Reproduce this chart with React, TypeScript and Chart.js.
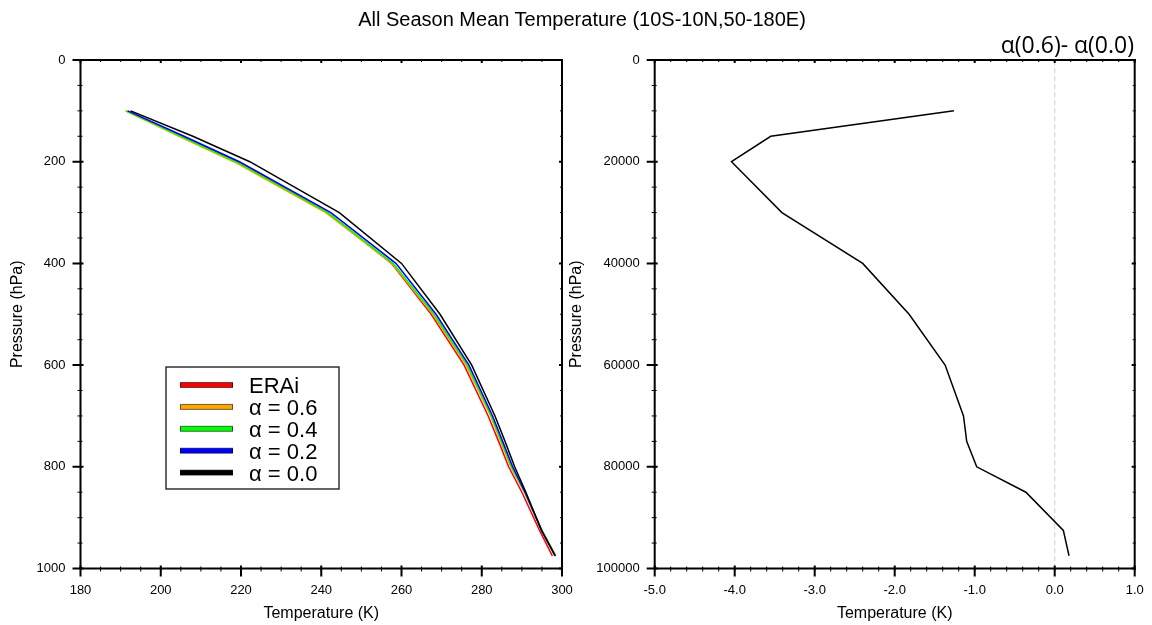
import React, { useEffect, useRef } from "react";
import { Chart, registerables } from "chart.js";

Chart.register(...registerables);

// ---------- data ----------
const pressureLevels = [100, 150, 200, 300, 400, 500, 600, 700, 750, 800, 850, 925, 975];
const tempERAi = [191.4, 205.3, 219.3, 241.6, 257.5, 267.4, 275.6, 281.6, 284.2, 286.7, 290.0, 294.4, 297.6];
const tempAlpha06 = [191.2, 204.5, 218.2, 241.1, 257.6, 267.8, 276.1, 282.2, 284.7, 287.2, 290.6, 295.0, 298.5];
const tempAlpha04 = [191.4, 205.0, 218.7, 241.6, 257.9, 268.1, 276.4, 282.4, 284.9, 287.4, 290.7, 295.0, 298.4];
const tempAlpha02 = [191.8, 205.8, 219.6, 242.4, 258.6, 268.6, 276.8, 282.7, 285.2, 287.7, 290.8, 294.9, 298.3];
const tempAlpha00 = [192.5, 208.0, 222.2, 244.5, 260.0, 269.6, 277.5, 283.3, 285.8, 288.2, 291.0, 294.9, 298.3];
const seriesLabels = ["ERAi", "α = 0.6", "α = 0.4", "α = 0.2", "α = 0.0"];
const seriesColors = ["#ff0000", "#ffa500", "#00ff00", "#0000ff", "#000000"];
const seriesDrawOrder = [4, 3, 2, 1, 0];

const diffPressurePa = [10000, 15000, 20000, 30000, 40000, 50000, 60000, 70000, 75000, 80000, 85000, 92500, 97500];
const diffAlpha06Minus00 = [-1.26, -3.55, -4.04, -3.41, -2.4, -1.82, -1.37, -1.14, -1.1, -0.975, -0.36, 0.108, 0.179];

const mainTitle = "All Season Mean Temperature (10S-10N,50-180E)";
const rightTitle = "α(0.6)- α(0.0)";
const xAxisTitle = "Temperature (K)";
const yAxisTitle = "Pressure (hPa)";

const FONT = "'Liberation Sans', Arial, Helvetica, sans-serif";

// ---------- plugins ----------
const framePlugin = {
  id: "nclFrame",
  afterDatasetsDraw(chart: any, _args: any, opts: any) {
    const { ctx, chartArea: a, scales } = chart;
    const xs = scales.x;
    const ys = scales.y;
    ctx.save();
    ctx.strokeStyle = "#000";
    const ticks = (scale: any, step: number, major: boolean, isX: boolean) => {
      const n = Math.round((scale.max - scale.min) / step);
      ctx.lineWidth = major ? 2 : 1;
      const outLen = major ? 8 : 3;
      const inLen = major ? 3 : 2;
      const oppIn = major ? 3 : 2;
      for (let i = 0; i <= n; i++) {
        const v = scale.min + i * step;
        const p = scale.getPixelForValue(v);
        ctx.beginPath();
        if (isX) {
          ctx.moveTo(p, a.bottom - inLen);
          ctx.lineTo(p, a.bottom + outLen);
          ctx.moveTo(p, a.top + oppIn);
          ctx.lineTo(p, a.top - 1);
        } else {
          ctx.moveTo(a.left + inLen, p);
          ctx.lineTo(a.left - outLen, p);
          ctx.moveTo(a.right - oppIn, p);
          ctx.lineTo(a.right + 1, p);
        }
        ctx.stroke();
      }
    };
    ticks(xs, opts.xMinor, false, true);
    ticks(ys, opts.yMinor, false, false);
    ticks(xs, opts.xMajor, true, true);
    ticks(ys, opts.yMajor, true, false);
    ctx.lineWidth = 2;
    ctx.strokeRect(a.left, a.top, a.right - a.left, a.bottom - a.top);
    ctx.restore();
  },
};

const boxLegendPlugin = {
  id: "boxLegend",
  afterDraw(chart: any) {
    const { ctx } = chart;
    const boxL = 166, boxT = 367, boxR = 339, boxB = 489;
    ctx.save();
    ctx.fillStyle = "#ffffff";
    ctx.fillRect(boxL, boxT, boxR - boxL, boxB - boxT);
    ctx.strokeStyle = "#333";
    ctx.lineWidth = 1.5;
    ctx.strokeRect(boxL, boxT, boxR - boxL, boxB - boxT);
    chart.data.datasets.forEach((ds: any, i: number) => {
      const y = 385 + i * 21.9;
      ctx.fillStyle = ds.borderColor;
      ctx.fillRect(180, y - 2.5, 53, 5);
      ctx.strokeStyle = "rgba(0,0,0,0.55)";
      ctx.lineWidth = 1;
      ctx.strokeRect(180.5, y - 2.5, 52, 5);
      ctx.fillStyle = "#000";
      ctx.font = `22px ${FONT}`;
      ctx.textAlign = "left";
      ctx.textBaseline = "alphabetic";
      ctx.fillText(ds.label, 249, y + 8.3);
    });
    ctx.restore();
  },
};

const zeroLinePlugin = {
  id: "zeroLine",
  beforeDatasetsDraw(chart: any) {
    const { ctx, chartArea: a, scales } = chart;
    const x = scales.x.getPixelForValue(0);
    ctx.save();
    ctx.strokeStyle = "#cfcfcf";
    ctx.lineWidth = 1;
    ctx.setLineDash([5, 3]);
    ctx.beginPath();
    ctx.moveTo(x, a.top);
    ctx.lineTo(x, a.bottom);
    ctx.stroke();
    ctx.restore();
  },
};

function zeroPad(s: any) {
  s.paddingLeft = 0;
  s.paddingRight = 0;
  s.paddingTop = 0;
  s.paddingBottom = 0;
}

function baseOptions(p: {
  xMin: number; xMax: number; xStep: number; xFmt: (v: number) => string;
  yMin: number; yMax: number; yStep: number;
  yWidth: number; rightPad: number; yTitlePad: number;
  xMajor: number; xMinor: number; yMajor: number; yMinor: number;
}) {
  return {
    responsive: false,
    animation: false as const,
    devicePixelRatio: 1,
    layout: { padding: { left: 0, right: p.rightPad, top: 60, bottom: 0 } },
    plugins: {
      legend: { display: false },
      tooltip: { enabled: false },
      nclFrame: { xMajor: p.xMajor, xMinor: p.xMinor, yMajor: p.yMajor, yMinor: p.yMinor },
    },
    scales: {
      x: {
        type: "linear" as const,
        min: p.xMin,
        max: p.xMax,
        grid: { display: false, drawTicks: false },
        border: { display: false },
        ticks: {
          stepSize: p.xStep,
          padding: 14,
          color: "#000",
          font: { family: FONT, size: 13 },
          maxRotation: 0,
          callback: (v: any) => p.xFmt(Number(v)),
        },
        title: {
          display: true,
          text: xAxisTitle,
          color: "#000",
          font: { family: FONT, size: 16 },
          padding: { top: 0, bottom: 1.4 },
        },
        afterFit: (s: any) => { s.height = 625 - 568.5; zeroPad(s); },
      },
      y: {
        type: "linear" as const,
        reverse: true,
        min: p.yMin,
        max: p.yMax,
        grid: { display: false, drawTicks: false },
        border: { display: false },
        ticks: {
          stepSize: p.yStep,
          padding: 15,
          color: "#000",
          font: { family: FONT, size: 13 },
          callback: (v: any) => String(v),
        },
        title: {
          display: true,
          text: yAxisTitle,
          color: "#000",
          font: { family: FONT, size: 16 },
          padding: { top: p.yTitlePad, bottom: 0 },
        },
        afterFit: (s: any) => { s.width = p.yWidth; zeroPad(s); },
      },
    },
  };
}

function LeftChart() {
  const ref = useRef<HTMLCanvasElement>(null);
  useEffect(() => {
    const series = [tempERAi, tempAlpha06, tempAlpha04, tempAlpha02, tempAlpha00];
    const chart = new Chart(ref.current!, {
      type: "scatter",
      data: {
        datasets: series.map((vals, i) => ({
          label: seriesLabels[i],
          data: vals.map((t, j) => ({ x: t, y: pressureLevels[j] })),
          showLine: true,
          borderColor: seriesColors[i],
          backgroundColor: seriesColors[i],
          borderWidth: 1.5,
          pointRadius: 0,
          tension: 0,
          order: seriesDrawOrder[i],
        })),
      },
      options: baseOptions({
        xMin: 180, xMax: 300, xStep: 20, xFmt: (v) => String(v),
        yMin: 0, yMax: 1000, yStep: 200,
        yWidth: 80.5, rightPad: 576 - 562, yTitlePad: 8.4,
        xMajor: 20, xMinor: 5, yMajor: 200, yMinor: 50,
      }) as any,
      plugins: [framePlugin, boxLegendPlugin],
    });
    return () => chart.destroy();
  }, []);
  return (
    <canvas
      ref={ref}
      width={576}
      height={625}
      style={{ position: "absolute", left: 0, top: 0, width: 576, height: 625 }}
    />
  );
}

function RightChart() {
  const ref = useRef<HTMLCanvasElement>(null);
  useEffect(() => {
    const chart = new Chart(ref.current!, {
      type: "scatter",
      data: {
        datasets: [
          {
            label: rightTitle,
            data: diffAlpha06Minus00.map((d, j) => ({ x: d, y: diffPressurePa[j] })),
            showLine: true,
            borderColor: "#000",
            backgroundColor: "#000",
            borderWidth: 1.5,
            pointRadius: 0,
            tension: 0,
          },
        ],
      },
      options: baseOptions({
        xMin: -5, xMax: 1, xStep: 1, xFmt: (v) => v.toFixed(1),
        yMin: 0, yMax: 100000, yStep: 20000,
        yWidth: 94.7, rightPad: 592 - 574.7, yTitlePad: 7.4,
        xMajor: 1, xMinor: 0.2, yMajor: 20000, yMinor: 5000,
      }) as any,
      plugins: [zeroLinePlugin, framePlugin],
    });
    return () => chart.destroy();
  }, []);
  return (
    <canvas
      ref={ref}
      width={592}
      height={625}
      style={{ position: "absolute", left: 560, top: 0, width: 592, height: 625 }}
    />
  );
}

export default function App() {
  return (
    <div
      style={{
        position: "absolute",
        left: 0,
        top: 0,
        width: 1152,
        height: 625,
        background: "#fff",
        overflow: "hidden",
      }}
    >
      <LeftChart />
      <RightChart />
      <div
        style={{
          position: "absolute",
          left: 582,
          top: 9,
          transform: "translateX(-50%)",
          whiteSpace: "nowrap",
          fontFamily: FONT,
          fontSize: 20,
          lineHeight: "20px",
          color: "#000",
        }}
      >
        {mainTitle}
      </div>
      <div
        style={{
          position: "absolute",
          right: 18,
          top: 33,
          whiteSpace: "nowrap",
          fontFamily: "'Open Sans', 'DejaVu Sans', sans-serif",
          fontSize: 23,
          lineHeight: "23px",
          color: "#000",
        }}
      >
        {rightTitle}
      </div>
    </div>
  );
}
